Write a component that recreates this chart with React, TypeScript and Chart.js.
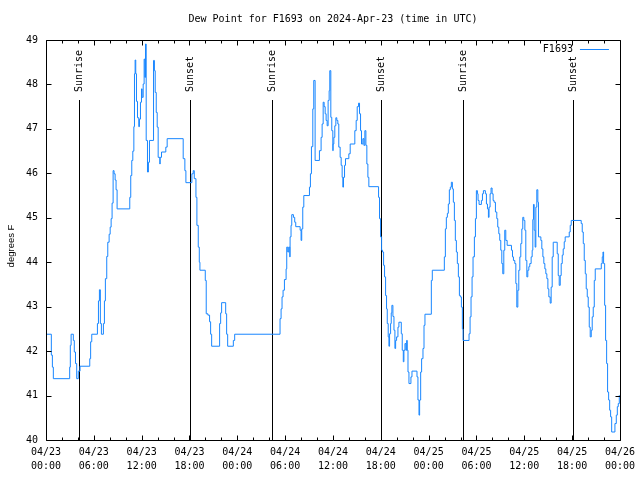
import { useEffect, useRef } from "react";
import { Chart, registerables } from "chart.js";

Chart.register(...registerables);

// ---- data (hours since 2024-04-23 00:00 UTC, dew point in °F; value holds until next reading) ----
const hours = [
  0, 0.67, 0.8, 0.92, 2.97, 3.05, 3.15, 3.43, 3.55, 3.7,
  3.85, 4.05, 4.27, 5.49, 5.6, 5.74, 6.45, 6.58, 6.7, 6.82,
  6.95, 7.2, 7.33, 7.45, 7.62, 7.75, 7.92, 8.05, 8.17, 8.29,
  8.42, 8.54, 8.67, 8.79, 8.92, 10.51, 10.63, 10.76, 10.89, 11.02,
  11.1, 11.18, 11.26, 11.35, 11.48, 11.64, 11.72, 11.85, 11.98, 12.06,
  12.19, 12.31, 12.4, 12.48, 12.57, 12.73, 12.85, 12.98, 13.49, 13.6,
  13.7, 13.83, 13.95, 14.07, 14.28, 14.32, 14.49, 15.03, 15.2, 17.21,
  17.42, 17.55, 18.3, 18.47, 18.6, 18.81, 18.93, 19.1, 19.23, 19.31,
  19.98, 20.1, 20.31, 20.52, 20.65, 20.78, 21.78, 21.91, 22.03, 22.54,
  22.66, 22.79, 23.5, 23.67, 29.36, 29.49, 29.61, 29.74, 29.91, 30.12,
  30.2, 30.33, 30.45, 30.58, 30.62, 30.74, 30.83, 31.04, 31.2, 31.33,
  31.88, 32.0, 32.08, 32.21, 32.34, 33.05, 33.17, 33.3, 33.47, 33.59,
  33.76, 34.3, 34.51, 34.64, 34.77, 34.89, 35.02, 35.14, 35.27, 35.39,
  35.52, 35.6, 35.73, 35.85, 35.98, 36.02, 36.11, 36.23, 36.36, 36.48,
  36.61, 36.73, 36.9, 37.03, 37.15, 37.24, 37.32, 37.45, 37.57, 37.99,
  38.16, 38.74, 38.91, 39.04, 39.21, 39.33, 39.46, 39.58, 39.75, 39.88,
  40.0, 40.13, 40.25, 40.38, 40.5, 41.72, 41.84, 41.97, 42.1, 42.22,
  42.35, 42.47, 42.6, 42.72, 42.81, 42.93, 43.02, 43.1, 43.23, 43.31,
  43.39, 43.52, 43.65, 43.77, 43.86, 43.98, 44.15, 44.27, 44.57, 44.69,
  44.82, 44.9, 45.03, 45.15, 45.24, 45.32, 45.41, 45.53, 45.78, 45.91,
  46.54, 46.66, 46.79, 46.87, 47.0, 47.12, 47.29, 47.42, 47.54, 48.34,
  48.46, 49.97, 50.1, 50.22, 50.35, 50.47, 50.6, 50.72, 50.85, 50.98,
  51.1, 51.23, 51.35, 51.48, 51.6, 51.73, 51.86, 51.98, 52.11, 52.23,
  52.32, 53.07, 53.2, 53.32, 53.45, 53.57, 53.74, 53.87, 53.99, 54.12,
  54.2, 54.33, 54.62, 54.75, 54.87, 55.12, 55.25, 55.38, 55.5, 55.58,
  55.71, 55.83, 55.96, 56.09, 56.21, 56.38, 56.55, 56.67, 56.8, 56.92,
  57.05, 57.18, 57.3, 57.43, 57.55, 57.68, 57.85, 58.39, 58.52, 58.64,
  58.81, 58.94, 59.06, 59.19, 59.31, 59.44, 59.56, 59.69, 59.81, 59.94,
  60.07, 60.19, 60.32, 60.44, 60.57, 60.69, 60.86, 60.99, 61.07, 61.15,
  61.24, 61.36, 61.45, 61.57, 61.7, 61.78, 62.08, 62.2, 62.33, 62.45,
  62.58, 62.7, 62.83, 62.96, 63.08, 63.25, 63.37, 63.5, 63.63, 64.13,
  64.26, 64.38, 64.51, 64.63, 64.76, 64.88, 65.01, 65.13, 65.64, 65.76,
  65.89, 67.14, 67.27, 67.4, 67.52, 67.65, 67.77, 67.9, 68.02, 68.15,
  68.27, 68.4, 68.52, 68.65, 68.78, 68.9, 69.66, 69.78, 69.87, 69.95,
  70.08, 70.2, 70.33, 70.45, 70.58, 70.71, 70.83, 70.96, 71.37, 71.54,
  71.67, 71.79, 71.92,
];

const dewPointF = [
  42.38, 41.91, 41.64, 41.38, 41.64, 42.13, 42.38, 42.24, 41.98, 41.72,
  41.38, 41.55, 41.66, 41.83, 42.21, 42.38, 42.62, 43.13, 43.38, 42.62,
  42.38, 42.62, 43.13, 43.63, 44.13, 44.45, 44.63, 44.79, 44.98, 45.33,
  46.06, 45.99, 45.85, 45.63, 45.2, 45.46, 45.95, 46.29, 46.5, 47.05,
  48.24, 48.55, 48.24, 47.62, 47.25, 47.05, 47.22, 47.6, 47.9, 47.71,
  48.01, 48.57, 48.16, 48.91, 46.74, 46.03, 46.25, 46.74, 48.54, 48.31,
  47.82, 47.37, 47.04, 46.36, 46.21, 46.36, 46.48, 46.59, 46.78, 46.33,
  46.06, 45.79, 45.99, 46.06, 45.88, 45.46, 44.83, 44.34, 44.0, 43.82,
  43.59, 42.84, 42.81, 42.66, 42.38, 42.11, 42.62, 42.86, 43.09, 42.84,
  42.38, 42.11, 42.24, 42.38, 42.73, 42.95, 43.22, 43.37, 43.61, 43.85,
  44.34, 44.23, 44.34, 44.12, 44.57, 44.83, 45.07, 45.01, 44.9, 44.8,
  44.72, 44.49, 44.75, 45.24, 45.5, 45.69, 45.99, 46.6, 47.45, 48.09,
  46.29, 46.51, 46.81, 47.11, 47.6, 47.5, 47.34, 47.19, 47.07, 47.64,
  47.86, 48.31, 47.26, 46.96, 46.51, 46.66, 46.81, 47.07, 47.25, 47.19,
  47.11, 46.59, 46.36, 46.18, 45.91, 45.69, 45.91, 46.18, 46.33, 46.44,
  46.66, 46.96, 47.19, 47.5, 47.58, 47.34, 46.96, 46.66, 46.78, 46.63,
  46.96, 46.63, 46.21, 45.91, 45.7, 45.46, 44.98, 44.57, 44.27, 44.23,
  43.93, 43.67, 43.25, 42.95, 42.62, 42.32, 42.11, 42.39, 42.62, 42.86,
  43.03, 42.78, 42.47, 42.06, 42.24, 42.32, 42.54, 42.65, 42.39, 42.02,
  41.76, 42.02, 42.17, 42.02, 42.24, 42.02, 41.53, 41.27, 41.42, 41.55,
  41.42, 40.9, 40.56, 40.9, 41.53, 41.83, 42.06, 42.58, 42.83, 43.59,
  43.82, 44.12, 44.75, 45.01, 45.1, 45.31, 45.63, 45.69, 45.8, 45.65,
  45.35, 44.94, 44.49, 44.23, 43.97, 43.67, 43.25, 43.22, 42.99, 42.5,
  42.24, 42.39, 42.77, 43.22, 43.67, 44.12, 44.57, 44.98, 45.61, 45.54,
  45.39, 45.3, 45.39, 45.54, 45.61, 45.54, 45.31, 45.2, 45.01, 45.24,
  45.54, 45.67, 45.54, 45.39, 45.35, 45.13, 44.98, 44.79, 44.64, 44.49,
  44.27, 43.97, 43.74, 44.27, 44.72, 44.49, 44.38, 44.27, 44.12, 44.04,
  43.97, 43.52, 42.99, 43.37, 43.82, 44.12, 44.42, 44.75, 45.01, 44.94,
  44.72, 44.04, 43.67, 43.82, 43.9, 43.97, 44.12, 44.27, 44.96, 45.3,
  44.72, 44.34, 45.24, 45.63, 45.35, 44.57, 44.49, 44.3, 44.12, 43.97,
  43.85, 43.74, 43.63, 43.4, 43.22, 43.08, 43.44, 44.12, 44.45, 44.19,
  43.7, 43.48, 43.7, 43.97, 44.16, 44.3, 44.46, 44.57, 44.68, 44.83,
  44.94, 44.87, 44.68, 44.42, 44.04, 43.74, 43.4, 43.22, 42.99, 42.54,
  42.32, 42.47, 42.77, 42.99, 43.59, 43.85, 43.97, 44.12, 44.23, 43.97,
  43.03, 42.24, 41.72, 41.08, 40.9, 40.67, 40.52, 40.18, 40.37, 40.56,
  40.75, 40.82, 41.01,
];

const sunriseHours = [4.1, 28.3, 52.3];
const sunsetHours = [18.05, 42.05, 66.15];

const xTickDates = ["04/23", "04/23", "04/23", "04/23", "04/24", "04/24", "04/24", "04/24", "04/25", "04/25", "04/25", "04/25", "04/26"];
const xTickTimes = ["00:00", "06:00", "12:00", "18:00", "00:00", "06:00", "12:00", "18:00", "00:00", "06:00", "12:00", "18:00", "00:00"];

const seriesName = "F1693";
const titleText = "Dew Point for F1693 on 2024-Apr-23 (time in UTC)";
const yAxisTitle = "degrees F";
const sunriseLabel = "Sunrise";
const sunsetLabel = "Sunset";

// ---- styles ----
const MONO = '"DejaVu Sans Mono", "Liberation Mono", monospace';
const SANS = '"Liberation Sans", "DejaVu Sans", sans-serif';
const LINE_COLOR = "rgb(24,134,255)";

const crisp = (p: number) => Math.round(p) + 0.5;

const decorPlugin = {
  id: "gnuplotDecor",
  beforeDraw(chart: any) {
    const { ctx, width, height } = chart;
    ctx.save();
    ctx.fillStyle = "#ffffff";
    ctx.fillRect(0, 0, width, height);
    ctx.restore();
  },
  beforeDatasetsDraw(chart: any) {
    const { ctx, chartArea: a, scales } = chart;
    const xs = scales.x;
    ctx.save();
    ctx.strokeStyle = "#000";
    ctx.fillStyle = "#000";
    ctx.lineWidth = 1;
    ctx.font = `10px ${MONO}`;
    const drawSun = (h: number, label: string) => {
      const px = crisp(xs.getPixelForValue(h));
      ctx.beginPath();
      ctx.moveTo(px, a.top + 60);
      ctx.lineTo(px, a.bottom);
      ctx.stroke();
      ctx.save();
      ctx.translate(px, a.top + 52);
      ctx.rotate(-Math.PI / 2);
      ctx.textAlign = "left";
      ctx.textBaseline = "middle";
      ctx.fillText(label, 0, 0);
      ctx.restore();
    };
    sunriseHours.forEach((h) => drawSun(h, sunriseLabel));
    sunsetHours.forEach((h) => drawSun(h, sunsetLabel));
    ctx.restore();
  },
  afterDatasetsDraw(chart: any) {
    const { ctx, chartArea: a, scales } = chart;
    const xs = scales.x;
    const ys = scales.y;
    ctx.save();
    ctx.strokeStyle = "#000";
    ctx.lineWidth = 1;
    const L = crisp(a.left), R = crisp(a.right), T = crisp(a.top), B = crisp(a.bottom);
    // frame
    ctx.beginPath();
    ctx.rect(L, T, R - L, B - T);
    ctx.stroke();
    // x ticks (every 2 h, major every 6 h), inward on bottom and top
    ctx.beginPath();
    for (let h = xs.min; h <= xs.max; h += 2) {
      const px = crisp(xs.getPixelForValue(h));
      const len = h % 6 === 0 ? 5 : 3;
      ctx.moveTo(px, B);
      ctx.lineTo(px, B - len);
      ctx.moveTo(px, T);
      ctx.lineTo(px, T + len);
    }
    // y ticks, inward on left and right
    for (let v = ys.min; v <= ys.max; v += 1) {
      const py = crisp(ys.getPixelForValue(v));
      ctx.moveTo(L, py);
      ctx.lineTo(L + 5, py);
      ctx.moveTo(R, py);
      ctx.lineTo(R - 5, py);
    }
    ctx.stroke();

    // title
    ctx.fillStyle = "#000";
    ctx.font = `10px ${MONO}`;
    ctx.textAlign = "center";
    ctx.textBaseline = "middle";
    ctx.fillText(titleText, (a.left + a.right) / 2, 19);

    // legend
    const ly = a.top + 9;
    ctx.textAlign = "right";
    ctx.fillText(seriesName, a.right - 47, ly);
    ctx.strokeStyle = LINE_COLOR;
    ctx.beginPath();
    ctx.moveTo(a.right - 40, crisp(ly));
    ctx.lineTo(a.right - 11, crisp(ly));
    ctx.stroke();

    // y axis title
    ctx.save();
    ctx.font = `9.5px ${SANS}`;
    ctx.fillStyle = "#000";
    ctx.translate(11, (a.top + a.bottom) / 2 + 6);
    ctx.rotate(-Math.PI / 2);
    ctx.textAlign = "center";
    ctx.textBaseline = "middle";
    ctx.fillText(yAxisTitle, 0, 0);
    ctx.restore();

    ctx.restore();
  },
};

export default function App() {
  const canvasRef = useRef<HTMLCanvasElement | null>(null);

  useEffect(() => {
    const canvas = canvasRef.current;
    if (!canvas) return;
    const points = hours.map((h, i) => ({ x: h, y: dewPointF[i] }));
    const chart = new Chart(canvas, {
      type: "line",
      data: {
        datasets: [
          {
            label: seriesName,
            data: points,
            borderColor: LINE_COLOR,
            backgroundColor: LINE_COLOR,
            borderWidth: 1,
            pointRadius: 0,
            stepped: "before",
            fill: false,
          },
        ],
      },
      options: {
        animation: false,
        responsive: false,
        devicePixelRatio: 1,
        layout: { padding: { top: 40, right: 19, left: 0, bottom: 0 } },
        plugins: {
          legend: { display: false },
          title: { display: false },
          tooltip: { enabled: false },
        },
        scales: {
          x: {
            type: "linear",
            min: 0,
            max: 72,
            grid: { display: false, drawTicks: false },
            border: { display: false },
            ticks: {
              stepSize: 6,
              autoSkip: false,
              maxRotation: 0,
              padding: 5,
              color: "#000",
              font: { family: MONO, size: 10, lineHeight: 1.4 },
              callback: (v: any) => {
                const i = Math.round(Number(v) / 6);
                return [xTickDates[i], xTickTimes[i]];
              },
            },
            afterFit: (s: any) => {
              s.height = 40;
            },
          },
          y: {
            type: "linear",
            min: 40,
            max: 49,
            grid: { display: false, drawTicks: false },
            border: { display: false },
            ticks: {
              stepSize: 1,
              padding: 8,
              color: "#000",
              font: { family: MONO, size: 10 },
              callback: (v: any) => String(v),
            },
            afterFit: (s: any) => {
              s.width = 46;
            },
          },
        },
      },
      plugins: [decorPlugin],
    } as any);
    return () => chart.destroy();
  }, []);

  return (
    <div style={{ position: "absolute", left: 0, top: 0, width: 640, height: 480, background: "#fff" }}>
      <canvas ref={canvasRef} width={640} height={480} style={{ display: "block" }} />
    </div>
  );
}
